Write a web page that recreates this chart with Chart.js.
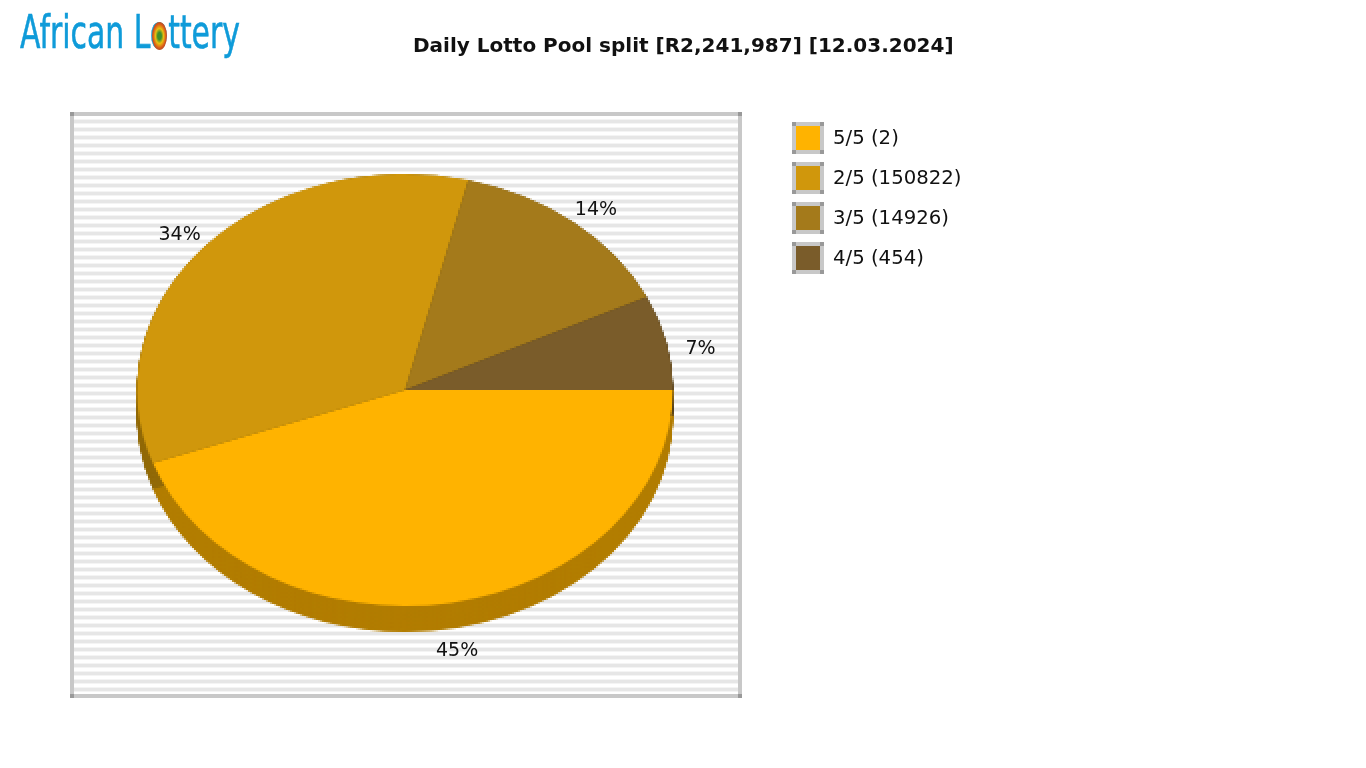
<!DOCTYPE html>
<html>
<head>
<meta charset="utf-8">
<title>Daily Lotto Pool split</title>
<script src="https://cdn.jsdelivr.net/npm/chart.js@4"></script>
<style>
    html, body { margin: 0; padding: 0; background: #fff; }
    body { position: relative; width: 1366px; height: 768px; overflow: hidden; font-family: "DejaVu Sans", sans-serif; color: #111; }

    #logo { position: absolute; left: 20px; top: 4px; font: 46px/56px "DejaVu Sans", sans-serif; color: #0f9bd9; -webkit-text-stroke: .6px #0f9bd9; transform: scaleX(.65); transform-origin: left top; white-space: nowrap; }
    #emblem { position: absolute; left: 152px; top: 22px; width: 15px; height: 28px; border-radius: 50%; background: radial-gradient(ellipse, #3f8f2a 18%, #e8c010 38%, #d8501a 62%, #6b6b4a 88%, #777 100%); }
    #title { position: absolute; left: 413px; top: 32px; font-size: 20px; line-height: 26px; font-weight: bold; white-space: nowrap; }

    /* marco gris con las esquinas mas oscuras */
    .frame {
        position: absolute; box-sizing: border-box; padding: 4px;
        background-color: #c8c8c8;
        background-image: linear-gradient(#999, #999), linear-gradient(#999, #999), linear-gradient(#999, #999), linear-gradient(#999, #999);
        background-size: 4px 4px;
        background-repeat: no-repeat;
        background-position: left top, right top, left bottom, right bottom;
    }
    #plot { left: 70px; top: 112px; width: 672px; height: 586px; }
    #plotInner {
        width: 100%; height: 100%;
        background: repeating-linear-gradient(to bottom, #fff 0, #fff 3px, #f4f4f4 3px, #f4f4f4 4px, #e6e6e6 4px, #e6e6e6 7px, #f4f4f4 7px, #f4f4f4 8px);
    }

    #chartBox { position: absolute; left: 0; top: 0; width: 1366px; height: 768px; }
    #myChart { image-rendering: pixelated; }

    .pieLabel { position: absolute; font-size: 19px; line-height: 24px; transform: translate(-50%, -50%); white-space: nowrap; }

    #legend { position: absolute; left: 792px; top: 122px; }
    .legendRow { position: relative; height: 40px; font-size: 19.7px; line-height: 32px; padding-left: 41px; white-space: nowrap; }
    .legendBox { left: 0; top: 0; width: 32px; height: 32px; }
    .legendSwatch { width: 100%; height: 100%; }
</style>
</head>
<body>
<div id="plot" class="frame"><div id="plotInner"></div></div>
<div id="chartBox"><canvas id="myChart"></canvas></div>
<div id="logo">African Lottery</div>
<div id="emblem"></div>
<div id="title">Daily Lotto Pool split [R2,241,987] [12.03.2024]</div>
<div id="legend"></div>

<script>
// datos
const categories = ['5/5', '2/5', '3/5', '4/5'];
const winners = [2, 150822, 14926, 454];
const percentLabels = [45, 34, 14, 7];
const sliceShares = [44.5, 34.3, 14.1, 7.1]; // medidos en la torta, sin redondear
const colors = ['#ffb300', '#d0970c', '#a47a1b', '#7a5c2a'];
const sideColors = ['#b27d00', '#926a08', '#735512', '#55401d'];

const squash = 216 / 268; // la torta se ve como elipse
const depth = 26; // alto del costado, en px de pantalla

// costado 3D y aplastado vertical de la torta
const flatPie = {
    id: 'flatPie',
    beforeDatasetsDraw(chart) {
        const ctx = chart.ctx;
        const arcs = chart.getDatasetMeta(0).data;
        ctx.save();
        ctx.translate(0, arcs[0].y);
        ctx.scale(1, squash);
        ctx.translate(0, -arcs[0].y);
        arcs.forEach((arc, i) => {
            ctx.fillStyle = sideColors[i];
            for (let d = depth / squash; d > 0; d -= 1) {
                ctx.beginPath();
                ctx.moveTo(arc.x, arc.y + d);
                ctx.arc(arc.x, arc.y + d, arc.outerRadius, arc.startAngle, arc.endAngle);
                ctx.closePath();
                ctx.fill();
            }
        });
    },
    afterDatasetsDraw(chart) {
        chart.ctx.restore();
        placeLabels(chart);
    }
};

// etiquetas de porcentaje como texto html
const placeLabels = (chart) => {
    document.querySelectorAll('.pieLabel').forEach(el => el.remove());
    chart.getDatasetMeta(0).data.forEach((arc, i) => {
        const mid = (arc.startAngle + arc.endAngle) / 2;
        const sin = Math.sin(mid);
        let y = arc.y + sin * 235;
        if (sin > 0) y += depth + 1; // los de abajo quedan bajo el costado
        if (sin < 0 && sin > -0.3) y += 9;
        const label = document.createElement('div');
        label.className = 'pieLabel';
        label.textContent = percentLabels[i] + '%';
        label.style.left = (arc.x + Math.cos(mid) * 303) + 'px';
        label.style.top = y + 'px';
        document.body.appendChild(label);
    });
};

// leyenda
const legend = document.querySelector('#legend');
categories.forEach((name, i) => {
    const row = document.createElement('div');
    row.className = 'legendRow';
    row.innerHTML = '<div class="frame legendBox"><div class="legendSwatch" style="background:' + colors[i] + '"></div></div>' + name + ' (' + winners[i] + ')';
    legend.appendChild(row);
});

new Chart(document.getElementById('myChart'), {
    type: 'pie',
    data: {
        labels: categories,
        datasets: [{
            data: sliceShares,
            backgroundColor: colors,
            borderWidth: 0
        }]
    },
    options: {
        responsive: true,
        maintainAspectRatio: false,
        animation: false,
        devicePixelRatio: 0.5,
        rotation: 90,
        layout: { padding: { left: 137, right: 693, top: 122, bottom: 110 } },
        plugins: { legend: { display: false }, tooltip: { enabled: false } }
    },
    plugins: [flatPie]
});
</script>
</body>
</html>
